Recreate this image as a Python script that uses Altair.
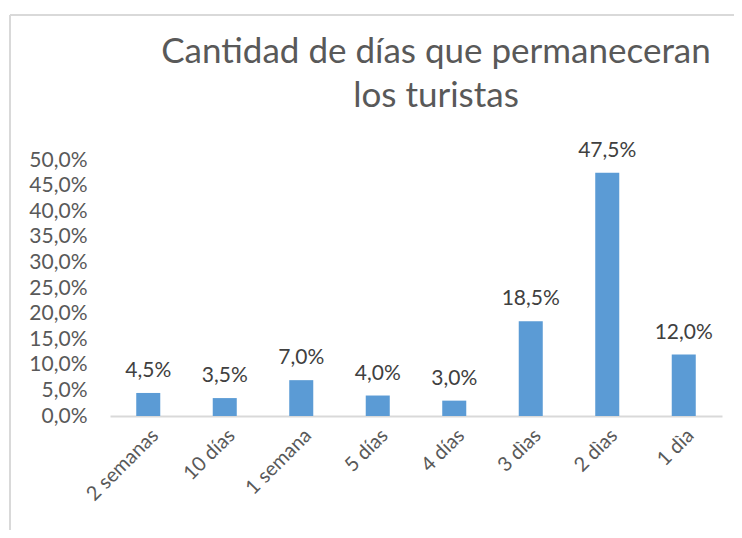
import altair as alt
import pandas as pd

categories = ["2  semanas", "10 días", "1 semana", "5 días", "4 días", "3 dìas", "2 dìas", "1 dìa"]
values = [0.045, 0.035, 0.070, 0.040, 0.030, 0.185, 0.475, 0.120]
y_ticks = [0.0, 0.05, 0.10, 0.15, 0.20, 0.25, 0.30, 0.35, 0.40, 0.45, 0.50]
title_lines = ["Cantidad de días que permaneceran", "los turistas"]

df = pd.DataFrame({"cat": categories, "val": values})
df["lab"] = [f"{v*100:.1f}".replace(".", ",") + "%" for v in values]

FONT = "Lato"
W, H = 612, 256

x_enc = alt.X("cat:N", sort=categories, title=None,
              scale=alt.Scale(paddingInner=0.686, paddingOuter=0.343),
              axis=alt.Axis(labelAngle=-45, labelFont=FONT, labelFontSize=20,
                            labelColor="#595959", ticks=False, domainColor="#D9D9D9",
                            domainWidth=2, labelPadding=9, labelOverlap=False))
y_enc = alt.Y("val:Q", title=None,
              scale=alt.Scale(domain=[0, 0.5], nice=False),
              axis=alt.Axis(values=y_ticks, tickCount=11, grid=False, domain=False, ticks=False,
                            labelExpr="replace(format(datum.value*100, '.1f'), '.', ',') + '%'",
                            labelFont=FONT, labelFontSize=21, labelColor="#595959",
                            labelPadding=23, labelOverlap=False, labelBound=False))

bars = alt.Chart(df).mark_bar(color="#5B9BD5").encode(x=x_enc, y=y_enc)
text = alt.Chart(df).mark_text(font=FONT, fontSize=21, color="#404040",
                               baseline="bottom", dy=-12).encode(
    x=x_enc, y=y_enc, text="lab:N")

frame_df = pd.DataFrame({"k": [0]})
top_line = alt.Chart(frame_df).mark_rule(color="#D9D9D9", strokeWidth=2, clip=False).encode(
    x=alt.value(-100), x2=alt.value(W + 40), y=alt.value(-145))
left_line = alt.Chart(frame_df).mark_rule(color="#D9D9D9", strokeWidth=2, clip=False).encode(
    x=alt.value(-100), y=alt.value(-145), y2=alt.value(H + 130))

t1 = alt.Chart(frame_df).mark_text(text=title_lines[0], font=FONT, fontSize=35, color="#595959",
                                   align="center", baseline="middle").encode(
    x=alt.value(326), y=alt.value(-108))
t2 = alt.Chart(frame_df).mark_text(text=title_lines[1], font=FONT, fontSize=35, color="#595959",
                                   align="center", baseline="middle").encode(
    x=alt.value(326), y=alt.value(-64))

chart = alt.layer(top_line, left_line, t1, t2, bars, text).properties(
    width=W, height=H,
    padding={"left": 102, "top": 152, "right": 12, "bottom": 114},
    autosize=alt.AutoSizeParams(type="none"),
).configure(background="white").configure_view(stroke=None)

chart.save("out.html", embed_options={"renderer": "svg", "actions": False})
